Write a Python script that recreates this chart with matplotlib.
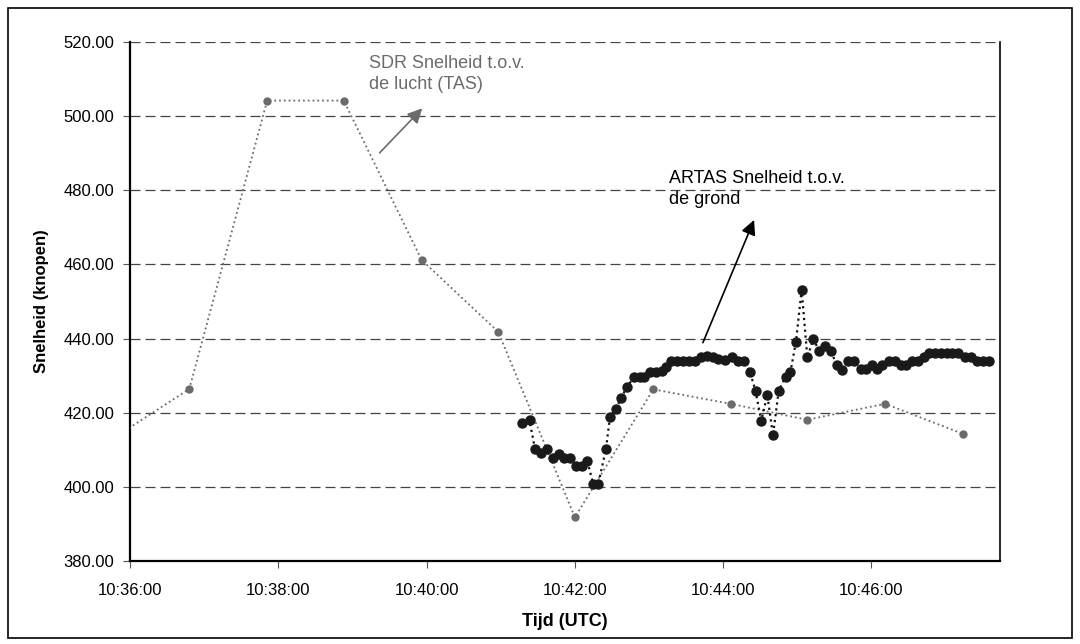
import matplotlib.pyplot as plt
import matplotlib.patches as patches

plt.rcParams['font.family'] = ['Liberation Sans', 'DejaVu Sans']

# seconds after 10:36:00
sdr_t = [-14, 48, 111, 173, 236, 298, 360, 423.5, 486, 548, 611, 674]
sdr_v = [413.0, 426.4, 504.2, 504.2, 461.2, 441.8, 391.8, 426.3, 422.4, 418.1, 422.4, 414.3]

artas_t = [317.0, 323.3, 327.8, 332.4, 337.1, 341.9, 346.8, 351.3, 355.9, 360.8,
           365.4, 370.0, 374.8, 378.9, 385.1, 388.4, 393.0, 397.3, 402.2, 408.1,
           412.7, 416.2, 421.1, 425.7, 430.6, 433.8, 437.8, 442.7, 447.3, 452.2,
           457.3, 462.2, 467.0, 471.7, 476.2, 481.1, 487.3, 491.9, 496.8, 501.7,
           506.2, 510.8, 515.7, 520.3, 524.9, 530.5, 534.4, 538.9, 543.5, 548.1,
           553.0, 557.6, 562.5, 567.0, 571.9, 576.2, 581.1, 585.6, 591.3, 595.9,
           600.6, 604.3, 608.7, 614.4, 618.9, 623.5, 627.6, 633.0, 637.9, 642.4,
           646.5, 651.3, 656.2, 660.8, 665.4, 670.3, 675.7, 680.3, 685.1, 690.0, 694.9]
artas_v = [417.2, 417.9, 410.1, 409.0, 410.1, 407.7, 408.9, 407.7, 407.7, 405.7,
           405.7, 407.0, 400.8, 400.8, 410.1, 418.9, 420.9, 423.9, 427.0, 429.7,
           429.7, 429.7, 431.1, 430.9, 431.3, 432.4, 434.0, 434.0, 434.0, 434.0,
           434.0, 434.9, 435.3, 434.9, 434.4, 434.2, 434.9, 434.0, 434.0, 430.9,
           425.9, 417.8, 424.8, 413.9, 425.9, 429.7, 430.9, 439.2, 453.1, 434.9,
           439.9, 436.7, 438.0, 436.7, 432.9, 431.5, 434.0, 434.0, 431.7, 431.7,
           432.9, 431.7, 432.9, 434.0, 434.0, 432.9, 432.9, 434.0, 434.0, 434.9,
           436.0, 436.0, 436.0, 436.0, 436.0, 436.0, 434.9, 434.9, 434.0, 434.0, 434.0]

xticks = [0, 120, 240, 360, 480, 600]
xticklabels = ['10:36:00', '10:38:00', '10:40:00', '10:42:00', '10:44:00', '10:46:00']
yticks = [380, 400, 420, 440, 460, 480, 500, 520]

fig = plt.figure(figsize=(10.8, 6.44), dpi=100)
ax = fig.add_axes([130/1080, 1 - 561/644, 870/1080, 519/644])

grey = '#6b6b6b'
ax.plot(sdr_t, sdr_v, linestyle=':', color=grey, linewidth=1.3,
        marker='o', markersize=5, markerfacecolor=grey, markeredgecolor=grey, zorder=3)
ax.plot(artas_t, artas_v, linestyle=':', color='#111111', linewidth=1.6,
        marker='o', markersize=6.5, markerfacecolor='#1a1a1a', markeredgecolor='#1a1a1a', zorder=4)

ax.set_xlim(0, 704)
ax.set_ylim(380, 520)
ax.set_xticks(xticks)
ax.set_xticklabels(xticklabels)
ax.set_yticks(yticks)
ax.set_yticklabels(['%.2f' % v for v in yticks])

for v in yticks[1:]:
    ax.axhline(v, color='#444444', linestyle=(0, (8, 4)), linewidth=0.9, zorder=1)

ax.spines['top'].set_visible(False)
ax.spines['left'].set_linewidth(1.6)
ax.spines['bottom'].set_linewidth(1.6)
ax.spines['right'].set_linewidth(1.2)
ax.tick_params(axis='both', direction='out', length=5, color='#555555', labelsize=12)
ax.tick_params(axis='y', pad=6.5)
ax.tick_params(axis='x', pad=11)

ax.set_xlabel('Tijd (UTC)', fontsize=13, fontweight='bold')
ax.set_ylabel('Snelheid (knopen)', fontsize=12, fontweight='bold')
ax.xaxis.set_label_coords(0.5, -0.1)
ax.yaxis.set_label_coords(-0.093, 0.5)

# annotations
ax.text(193, 516.5, 'SDR Snelheid t.o.v.\nde lucht (TAS)', color=grey, fontsize=13,
        va='top', ha='left', linespacing=1.3)
ax.annotate('', xy=(236.5, 502.1), xytext=(202, 490.1),
            arrowprops=dict(arrowstyle='-|>', color=grey, lw=1.2, mutation_scale=22,
                            shrinkA=0, shrinkB=0))

ax.text(436, 485.5, 'ARTAS Snelheid t.o.v.\nde grond', color='black', fontsize=13,
        va='top', ha='left', linespacing=1.3)
ax.annotate('', xy=(505, 472.0), xytext=(463.6, 438.9),
            arrowprops=dict(arrowstyle='-|>', color='black', lw=1.2, mutation_scale=22,
                            shrinkA=0, shrinkB=0))

fig.patches.append(patches.Rectangle((8/1080, 6/644), 1064/1080, 630/644,
                                     transform=fig.transFigure, fill=False,
                                     edgecolor='black', linewidth=1.2))

plt.savefig('out.png', dpi=100)
plt.close(fig)
